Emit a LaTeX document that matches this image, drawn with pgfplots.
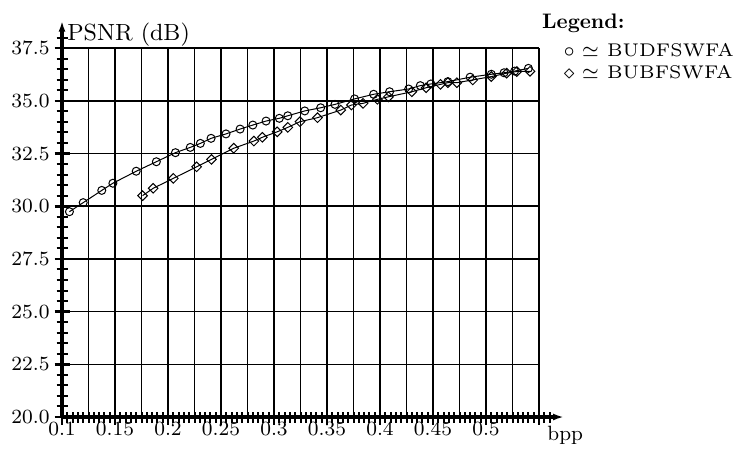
\documentclass[border=0pt]{standalone}
\usepackage{pgfplots}
\pgfplotsset{compat=1.18}
\usetikzlibrary{arrows.meta}
\begin{document}
\begin{tikzpicture}
\begin{axis}[
  scale only axis, width=251pt, height=198.15pt,
  xmin=0.1, xmax=0.5736, ymin=20, ymax=38.80,
  axis lines=left,
  axis line style={line width=1.6pt, -{Latex[length=5.5pt,width=3.5pt]}},
  clip=false,
  xtick={0.1,0.15,0.2,0.25,0.3,0.35,0.4,0.45,0.5,0.55},
  xticklabels={$0.1$,$0.15$,$0.2$,$0.25$,$0.3$,$0.35$,$0.4$,$0.45$,$0.5$,},
  minor xtick={0.105,0.11,...,0.562},
  ytick={20,22.5,25,27.5,30,32.5,35,37.5},
  minor ytick={20.5,21,...,38.1},
  yticklabel style={/pgf/number format/.cd,fixed,fixed zerofill,precision=1},
  tick align=center,
  major tick length=7.5pt, minor tick length=5.5pt,
  every major tick/.append style={line width=1.3pt, black},
  every minor tick/.append style={line width=1pt, black},
  tick label style={font=\fontsize{8}{9}\selectfont, scale=1.26, inner sep=0pt},
  xticklabel shift=-1.25pt,
  yticklabel shift=2.25pt,
]
\pgfplotsinvokeforeach{0.125,0.15,0.175,0.2,0.225,0.25,0.275,0.3,0.325,0.35,0.375,0.4,0.425,0.45,0.475,0.5,0.525,0.55}{
  \draw[line width=0.75pt] (axis cs:#1,20) -- (axis cs:#1,37.5);
}
\pgfplotsinvokeforeach{22.5,25,27.5,30,32.5,35,37.5}{
  \draw[line width=0.75pt] (axis cs:0.1,#1) -- (axis cs:0.55,#1);
}
\addplot[black, line width=0.5pt, mark=o, mark size=2pt, mark options={line width=0.5pt}] table {
0.107 29.74
0.120 30.17
0.1375 30.75
0.148 31.09
0.170 31.66
0.189 32.11
0.207 32.54
0.221 32.79
0.2305 32.98
0.2406 33.22
0.2547 33.43
0.268 33.66
0.280 33.85
0.2925 34.04
0.305 34.17
0.313 34.29
0.329 34.52
0.344 34.67
0.3575 34.83
0.376 35.09
0.394 35.31
0.409 35.43
0.427 35.56
0.438 35.72
0.448 35.80
0.464 35.91
0.485 36.12
0.505 36.26
0.517 36.33
0.527 36.41
0.540 36.54
};
\addplot[black, line width=0.5pt, mark=square, mark size=1.7pt, mark options={rotate=45, line width=0.5pt}] table {
0.176 30.50
0.186 30.85
0.205 31.32
0.227 31.87
0.241 32.22
0.262 32.75
0.281 33.09
0.289 33.27
0.303 33.53
0.313 33.74
0.3245 34.01
0.341 34.20
0.363 34.56
0.373 34.80
0.384 34.88
0.3975 35.07
0.408 35.19
0.430 35.43
0.4435 35.62
0.457 35.78
0.464 35.86
0.4725 35.86
0.4875 35.99
0.505 36.15
0.5195 36.31
0.529 36.39
0.5415 36.40
};
\node[anchor=base west, inner sep=0pt, font=\fontsize{9}{10}\selectfont, scale=1.30] at (axis cs:0.1045,37.85) {PSNR (dB)};
\node[anchor=base west, inner sep=0pt, font=\fontsize{9}{10}\selectfont, scale=1.15] at (axis cs:0.5575,18.91) {bpp};
\node[anchor=base west, inner sep=0pt, font=\fontsize{10.5}{12}\selectfont\bfseries] at (axis cs:0.5526,38.45) {Legend:};
\node[anchor=base west, inner sep=0pt, font=\fontsize{6}{7}\selectfont, scale=1.53] at (axis cs:0.5725,37.08) {$\circ\simeq$ BUDFSWFA};
\node[anchor=base west, inner sep=0pt, font=\fontsize{6}{7}\selectfont, scale=1.53] at (axis cs:0.5725,36.08) {$\diamond\simeq$ BUBFSWFA};
\coordinate (bbTL) at (axis cs:0.0415,39.782);
\coordinate (bbBR) at (axis cs:0.7396,18.529);
\end{axis}
\pgfresetboundingbox
\path[use as bounding box] (bbTL) rectangle (bbBR);
\end{tikzpicture}
\end{document}
